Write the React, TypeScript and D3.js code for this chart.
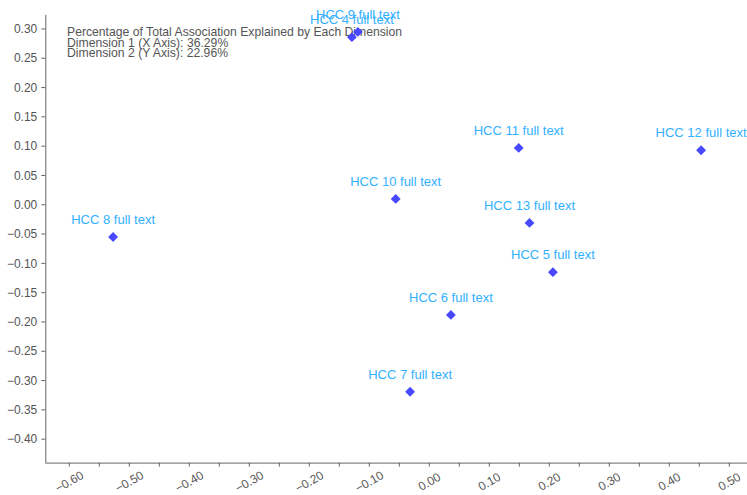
import React from "react";
import * as d3 from "d3";

const labels = ["HCC 4 full text", "HCC 9 full text", "HCC 5 full text", "HCC 6 full text", "HCC 7 full text", "HCC 8 full text", "HCC 10 full text", "HCC 11 full text", "HCC 12 full text", "HCC 13 full text"];
const xValues = [-0.129, -0.119, 0.206, 0.036, -0.032, -0.527, -0.056, 0.149, 0.453, 0.167];
const yValues = [0.286, 0.295, -0.115, -0.188, -0.319, -0.055, 0.010, 0.097, 0.093, -0.031];
const xTicks = d3.range(-12, 11).map((i) => i * 0.05);
const yTicks = d3.range(-8, 7).map((i) => i * 0.05);
const annotation = [
  "Percentage of Total Association Explained by Each Dimension",
  "Dimension 1 (X Axis): 36.29%",
  "Dimension 2 (Y Axis): 22.96%",
];

const W = 747;
const H = 495;

export default function App() {
  const x = d3.scaleLinear().domain([-0.64, 0.53]).range([45.3, 747.3]);
  const y = d3.scaleLinear().domain([-0.44, 0.324]).range([462.6, 14.9]);
  const fmt = d3.format(".2f");
  const axisColor = "#666";
  const textColor = "#555";
  const font = "'Liberation Sans', Arial, Helvetica, sans-serif";
  const x0 = x.range()[0];
  const y0 = y.range()[0];
  const diamond = d3.symbol().type(d3.symbolDiamond2).size(62)();
  return (
    <svg width={W} height={H} style={{ position: "absolute", left: 0, top: 0, background: "#fff" }} fontFamily={font}>
      {/* y axis */}
      <line x1={x0 + 0.5} x2={x0 + 0.5} y1={y.range()[1]} y2={y0} stroke={axisColor} strokeWidth={1} />
      {yTicks.map((t, i) => (
        <g key={"y" + i} transform={`translate(0,${y(t)})`}>
          <line x1={x0 - 4} x2={x0} stroke={axisColor} />
          <text x={x0 - 8} dy="0.35em" textAnchor="end" fontSize={12} fill={textColor}>
            {fmt(Math.abs(t) < 1e-9 ? 0 : t)}
          </text>
        </g>
      ))}
      {/* x axis */}
      <line x1={x0} x2={W} y1={y0 + 0.5} y2={y0 + 0.5} stroke={axisColor} strokeWidth={1} />
      {xTicks.map((t, i) => (
        <g key={"x" + i} transform={`translate(${x(t)},0)`}>
          <line y1={y0} y2={y0 + 4} stroke={axisColor} />
          {i % 2 === 0 && (
            <text transform={`translate(0,${y0 + 19}) rotate(-30)`} dy="0.35em" textAnchor="middle" fontSize={12} fill={textColor}>
              {fmt(Math.abs(t) < 1e-9 ? 0 : t)}
            </text>
          )}
        </g>
      ))}
      {/* annotation */}
      {annotation.map((s, i) => (
        <text key={"a" + i} x={67} y={36 + i * 10.5} fontSize={12.2} fill={textColor}>
          {s}
        </text>
      ))}
      {/* points */}
      {labels.map((l, i) => (
        <g key={"p" + i} transform={`translate(${x(xValues[i])},${y(yValues[i])})`}>
          <path d={diamond} fill="#4848ff" />
          <text y={-13} textAnchor="middle" fontSize={13} fill="#33b0ff">
            {l}
          </text>
        </g>
      ))}
    </svg>
  );
}
